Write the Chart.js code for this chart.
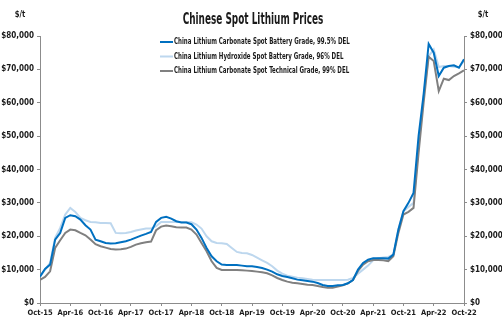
<!DOCTYPE html>
<html>
<head>
<meta charset="utf-8">
<script src="https://cdn.jsdelivr.net/npm/chart.js@4.4.1/dist/chart.umd.min.js"></script>
<style>
  html, body { margin: 0; padding: 0; background: #fff; }
  #wrap { width: 502px; height: 331px; position: relative; }
</style>
</head>
<body>
<div id="wrap"><canvas id="grafico"></canvas></div>
<script>
// eixo X: meses de Oct-15 (0) ate Oct-22 (84)
const tickLabels = ['Oct-15', 'Apr-16', 'Oct-16', 'Apr-17', 'Oct-17', 'Apr-18', 'Oct-18', 'Apr-19',
    'Oct-19', 'Apr-20', 'Oct-20', 'Apr-21', 'Oct-21', 'Apr-22', 'Oct-22'];

const yTicks = [0, 10000, 20000, 30000, 40000, 50000, 60000, 70000, 80000];

// US$/t, um valor por mes
const carbonatoBateria = [
    7900, 10200, 11500, 19000, 21000, 25500, 26300, 26000, 25000, 23300,
    22000, 19000, 18500, 18000, 17800, 17900, 18200, 18500, 19000, 19600,
    20200, 20700, 21300, 24300, 25500, 25800, 25300, 24500, 24100, 24100,
    23600, 22000, 19500, 16500, 14000, 12500, 11500, 11400, 11400, 11400,
    11200, 11000, 11000, 10800, 10500, 10000, 9400, 8600, 8100, 7800,
    7400, 7000, 6800, 6600, 6400, 6000, 5400, 5100, 5100, 5300,
    5400, 5900, 6900, 10000, 12000, 13000, 13400, 13400, 13400, 13300,
    14500, 22000, 27500, 30000, 33000, 50000, 62500, 77600, 75000, 68000,
    70500, 71000, 71200, 70500, 73000
];

const hidroxidoBateria = [
    8000, 10000, 12000, 19500, 22500, 26500, 28500, 27300, 25500, 24800,
    24300, 24200, 24000, 24000, 23900, 21000, 20900, 21000, 21300, 21700,
    22000, 22300, 22300, 23000, 24300, 24300, 24300, 24300, 24300, 24300,
    24200, 23500, 22300, 20000, 18500, 18000, 17900, 17700, 16500, 15300,
    15000, 14900, 14400, 13600, 12800, 12000, 11000, 9700, 8800, 8200,
    7900, 7600, 7400, 7200, 7000, 6900, 6900, 6900, 6900, 6900,
    6900, 7000, 7500, 8800, 10000, 11200, 12800, 13400, 13600, 13800,
    14500, 22000, 27500, 28800, 30000, 47000, 62000, 74000, 76000, 70700,
    71000, 71000, 70800, 70700, 72500
];

const carbonatoTecnico = [
    6900, 7800, 9500, 16500, 18800, 21000, 22000, 21800, 21000, 20300,
    19000, 17600, 17000, 16600, 16200, 16000, 16100, 16300, 16800, 17500,
    17900, 18200, 18400, 21800, 22900, 23200, 23000, 22700, 22600, 22600,
    22000, 20500, 18000, 15500, 12500, 10500, 9900, 9900, 9900, 9900,
    9800, 9700, 9600, 9400, 9200, 8900, 8300, 7500, 6900, 6400,
    6100, 5900, 5700, 5500, 5400, 5100, 4800, 4600, 4600, 4900,
    5300, 5900, 6900, 9600, 11500, 12500, 12900, 12900, 12800, 12500,
    14000, 21000, 26500, 27300, 28500, 45000, 60000, 73800, 72500, 63500,
    67200, 66800, 68000, 68800, 69700
];

const nomesSeries = [
    'China Lithium Carbonate Spot Battery Grade, 99.5% DEL',
    'China Lithium Hydroxide Spot Battery Grade, 96% DEL',
    'China Lithium Carbonate Spot Technical Grade, 99% DEL'
];
const coresSeries = ['#0070C0', '#BDD7EE', '#808080'];

const FONTE = "'Liberation Sans Narrow', 'DejaVu Sans Condensed', 'Arial Narrow', sans-serif";
const COR_TEXTO = '#1a1a1a';

function pontos(valores) {
    return valores.map((v, i) => ({ x: i, y: v }));
}

function formatarDolar(v) {
    return '$' + v.toLocaleString('en-US');
}

// texto comprimido na horizontal (a fonte do original e bem estreita)
function textoEstreito(ctx, texto, x, y, escala) {
    ctx.save();
    ctx.translate(x, y);
    ctx.scale(escala, 1);
    ctx.fillText(texto, 0, 0);
    ctx.restore();
}

// titulo, "$/t" e legenda desenhados por cima
const decoracao = {
    id: 'decoracao',
    afterDraw(chart) {
        const ctx = chart.ctx;
        ctx.save();
        ctx.fillStyle = COR_TEXTO;
        ctx.textBaseline = 'middle';

        ctx.font = 'bold 15px ' + FONTE;
        ctx.textAlign = 'center';
        textoEstreito(ctx, 'Chinese Spot Lithium Prices', 253, 20, 0.66);

        ctx.font = 'bold 9px ' + FONTE;
        textoEstreito(ctx, '$/t', 20, 15, 0.85);
        textoEstreito(ctx, '$/t', 483, 15, 0.85);

        ctx.textAlign = 'left';
        ctx.font = 'bold 8.5px ' + FONTE;
        nomesSeries.forEach((nome, idx) => {
            const y = 42 + idx * 14.5;
            ctx.strokeStyle = coresSeries[idx];
            ctx.lineWidth = 2;
            ctx.beginPath();
            ctx.moveTo(160, y);
            ctx.lineTo(173, y);
            ctx.stroke();
            ctx.fillStyle = COR_TEXTO;
            textoEstreito(ctx, nome, 174, y, 0.72);
        });
        ctx.restore();
    }
};

const eixoY = (posicao, largura) => ({
    type: 'linear',
    position: posicao,
    min: 0,
    max: 80000,
    afterBuildTicks: (axis) => { axis.ticks = yTicks.map(v => ({ value: v })); },
    afterFit: (axis) => { axis.width = largura; },
    border: { color: '#8c8c8c', width: 1 },
    grid: { drawOnChartArea: false, tickLength: 3, color: '#8c8c8c' },
    ticks: {
        padding: 3,
        color: COR_TEXTO,
        font: { family: FONTE, size: 8, weight: 'bold' },
        callback: (v) => formatarDolar(v)
    }
});

new Chart(document.getElementById('grafico'), {
    type: 'line',
    data: {
        datasets: [
            { label: nomesSeries[0], data: pontos(carbonatoBateria), borderColor: coresSeries[0], order: 0 },
            { label: nomesSeries[1], data: pontos(hidroxidoBateria), borderColor: coresSeries[1], order: 2 },
            { label: nomesSeries[2], data: pontos(carbonatoTecnico), borderColor: coresSeries[2], order: 1 }
        ]
    },
    options: {
        responsive: true,
        maintainAspectRatio: false,
        animation: false,
        layout: { padding: { top: 36, left: 0, right: 0, bottom: 0 } },
        elements: {
            line: { borderWidth: 2, tension: 0, fill: false },
            point: { radius: 0 }
        },
        plugins: {
            legend: { display: false },
            title: { display: false },
            tooltip: { enabled: false }
        },
        scales: {
            x: {
                type: 'linear',
                min: 0,
                max: 84,
                afterFit: (axis) => { axis.height = 28; },
                border: { color: '#8c8c8c', width: 1 },
                grid: { drawOnChartArea: false, tickLength: 3, color: '#8c8c8c' },
                ticks: {
                    stepSize: 6,
                    autoSkip: false,
                    maxRotation: 0,
                    padding: 3,
                    color: COR_TEXTO,
                    font: { family: FONTE, size: 7.5, weight: 'bold' },
                    callback: (v) => tickLabels[v / 6]
                }
            },
            y: eixoY('left', 40),
            y2: eixoY('right', 38)
        }
    },
    plugins: [decoracao]
});
</script>
</body>
</html>
